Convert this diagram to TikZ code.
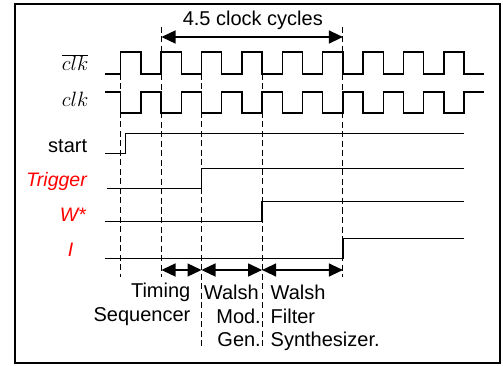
\documentclass[tikz,border=0pt]{standalone}
\usepackage{fontspec}
\setmainfont{Liberation Sans}
\usetikzlibrary{arrows.meta}
\begin{document}
\begin{tikzpicture}[x=1pt,y=-1pt,
  sig/.style={line width=1.3pt},
  guide/.style={line width=1pt, dash pattern=on 6pt off 3.5pt},
  span/.style={line width=1.3pt, {Triangle[length=14pt,width=13pt]}-{Triangle[length=14pt,width=13pt]}},
  lbl/.style={inner sep=0pt, font=\fontsize{20}{24}\selectfont},
  rlbl/.style={inner sep=0pt, text=red, font=\fontsize{19.5}{23.5}\selectfont\itshape},
  mlbl/.style={inner sep=0pt, font=\fontsize{21.5}{25}\selectfont},
]
\useasboundingbox (0,0) rectangle (503,366);
\fill[white] (0,0) rectangle (503,366);
\draw[line width=2pt] (15,4.5) rectangle (499.5,363);

% guide coordinates
\coordinate (g1t) at (120.7,74);  \coordinate (g1b) at (120.7,277);
\coordinate (g2t) at (161.5,27);  \coordinate (g2b) at (161.5,277);
\coordinate (g3t) at (201.5,74);  \coordinate (g3b) at (201.5,349);
\coordinate (g4t) at (262.1,74);  \coordinate (g4b) at (262.1,347);
\coordinate (g5t) at (342.9,27);  \coordinate (g5b) at (342.9,277);
\foreach \g in {1,...,5} { \draw[guide] (g\g t) -- (g\g b); }

% clock waveforms
\draw[sig] (105,74) foreach \k in {0,...,8} {
   -- ({120.7+40.4*\k},74) -- ({120.7+40.4*\k},52)
   -- ({140.9+40.4*\k},52) -- ({140.9+40.4*\k},74) } -- (484,74);
\draw[sig] (105,92) foreach \k in {0,...,8} {
   -- ({120.7+40.4*\k},92) -- ({120.7+40.4*\k},113)
   -- ({140.9+40.4*\k},113) -- ({140.9+40.4*\k},92) } -- (484,92);

% other signals
\draw[sig] (105,153.3) -- (125.3,153.3) -- (125.3,133.3) -- (463.5,133.3);
\draw[sig] (106.5,188.7) -- (201.5,188.7) -- (201.5,168.3) -- (463.5,168.3);
\draw[sig] (105,221.7) -- (262.1,221.7) -- (262.1,201.3) -- (463.5,201.3);
\draw[sig] (105,258.7) -- (342.9,258.7) -- (342.9,238.3) -- (463.5,238.3);

% labels
\node[mlbl, anchor=base east] (lclkb) at (88.5,71) {$\overline{clk}$};
\node[mlbl, anchor=base east] (lclk) at (88.5,106.7) {$clk$};
\node[lbl, anchor=base east] (lstart) at (87.3,152.7) {start};
\node[rlbl, anchor=base east] (ltrig) at (87,186) {Trigger};
\node[rlbl, anchor=base east] (lw) at (86,221.7) {W*};
\node[rlbl, anchor=base east] (li) at (73.5,256.7) {I};

% top span
\coordinate (t2) at (161.5,37);
\coordinate (t5) at (342.9,37);
\draw[span] (t2) -- (t5);
\node[lbl, anchor=base] (lcyc) at (252.8,25.7) {4.5 clock cycles};

% bottom spans
\coordinate (a2) at (161.5,270);
\coordinate (a3) at (201.5,270);
\coordinate (a4) at (262.1,270);
\coordinate (a5) at (342.9,270);
\draw[span] (a2) -- (a3);
\draw[span] (a3) -- (a4);
\draw[span] (a4) -- (a5);

% bottom texts
\node[lbl, anchor=base east] (ts1) at (190.5,297) {Timing};
\node[lbl, anchor=base east] (ts2) at (190.5,321.5) {Sequencer};
\node[lbl, anchor=base east] (wm1) at (259,299) {Walsh};
\node[lbl, anchor=base east] (wm2) at (261,323) {Mod.};
\node[lbl, anchor=base east] (wm3) at (261,346.5) {Gen.};
\node[lbl, anchor=base west] (wf1) at (270.5,299) {Walsh};
\node[lbl, anchor=base west] (wf2) at (270.5,323) {Filter};
\node[lbl, anchor=base west] (wf3) at (270.5,346.5) {Synthesizer.};
\end{tikzpicture}
\end{document}
